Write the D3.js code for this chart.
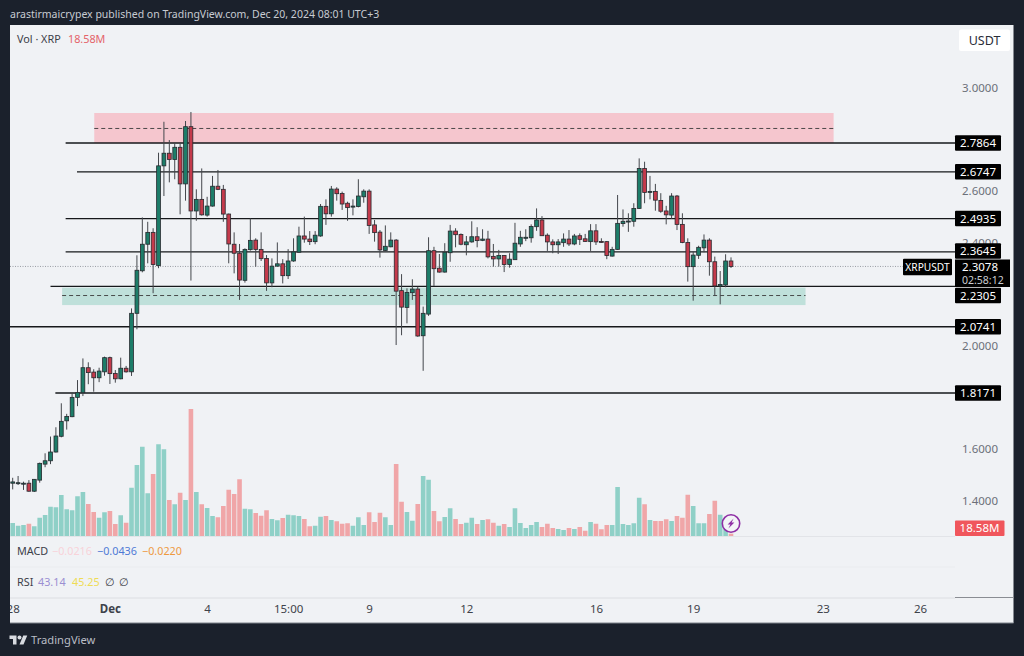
<!DOCTYPE html>
<html>
<head>
<meta charset="utf-8">
<script src="https://cdnjs.cloudflare.com/ajax/libs/d3/7.8.5/d3.min.js"></script>
<style>
html,body{margin:0;padding:0;background:#1b212c;overflow:hidden}
svg{display:block}
text{font-family:"Noto Sans",sans-serif}
</style>
</head>
<body>
<svg id="c" width="1024" height="656"></svg>
<script>
const opens=[1.467,1.467,1.464,1.467,1.436,1.479,1.541,1.554,1.588,1.649,1.709,1.725,1.800,1.818,1.915,1.898,1.876,1.899,1.954,1.893,1.872,1.913,1.899,2.126,2.291,2.394,2.440,2.311,2.698,2.747,2.723,2.770,2.628,2.850,2.523,2.568,2.507,2.542,2.619,2.607,2.511,2.394,2.359,2.254,2.373,2.410,2.374,2.339,2.244,2.309,2.318,2.272,2.329,2.363,2.426,2.414,2.404,2.426,2.541,2.512,2.608,2.591,2.553,2.538,2.540,2.578,2.600,2.469,2.441,2.370,2.384,2.410,2.214,2.149,2.206,2.220,2.039,2.123,2.369,2.301,2.286,2.361,2.445,2.432,2.392,2.403,2.423,2.409,2.414,2.347,2.337,2.350,2.315,2.334,2.395,2.417,2.419,2.462,2.488,2.429,2.403,2.392,2.400,2.414,2.395,2.427,2.415,2.404,2.446,2.405,2.404,2.348,2.374,2.474,2.481,2.483,2.533,2.688,2.597,2.599,2.564,2.523,2.507,2.581,2.471,2.401,2.307,2.351,2.380,2.410,2.326,2.232,2.236,2.329];
const closes=[1.472,1.469,1.467,1.436,1.482,1.544,1.554,1.588,1.650,1.707,1.726,1.800,1.818,1.915,1.896,1.876,1.902,1.954,1.892,1.872,1.913,1.899,2.126,2.293,2.394,2.440,2.315,2.698,2.747,2.723,2.770,2.628,2.850,2.523,2.568,2.508,2.542,2.619,2.607,2.511,2.395,2.359,2.255,2.374,2.409,2.374,2.338,2.244,2.309,2.318,2.272,2.329,2.364,2.426,2.414,2.404,2.429,2.541,2.512,2.608,2.590,2.550,2.536,2.542,2.581,2.600,2.467,2.439,2.372,2.386,2.410,2.212,2.150,2.207,2.220,2.038,2.126,2.369,2.299,2.286,2.363,2.445,2.431,2.394,2.403,2.423,2.408,2.414,2.345,2.337,2.350,2.315,2.336,2.398,2.421,2.421,2.463,2.488,2.427,2.403,2.392,2.403,2.414,2.395,2.426,2.413,2.405,2.446,2.403,2.403,2.350,2.374,2.475,2.483,2.484,2.533,2.688,2.595,2.599,2.565,2.522,2.508,2.581,2.471,2.401,2.307,2.352,2.382,2.410,2.326,2.232,2.238,2.329,2.3078];
const highs=[1.488,1.495,1.473,1.479,1.483,1.547,1.583,1.648,1.684,1.777,1.736,1.818,1.867,1.951,1.936,1.909,1.915,1.958,1.958,1.906,1.954,1.922,2.145,2.351,2.498,2.481,2.456,2.749,2.869,2.798,2.785,2.785,2.872,2.907,2.607,2.688,2.578,2.659,2.682,2.624,2.513,2.440,2.395,2.378,2.494,2.417,2.440,2.352,2.339,2.401,2.336,2.375,2.417,2.462,2.501,2.445,2.445,2.550,2.568,2.620,2.615,2.598,2.559,2.568,2.646,2.607,2.607,2.488,2.449,2.467,2.440,2.414,2.278,2.223,2.258,2.229,2.152,2.421,2.384,2.356,2.398,2.469,2.456,2.436,2.426,2.483,2.460,2.452,2.446,2.395,2.372,2.352,2.359,2.477,2.446,2.452,2.471,2.533,2.503,2.436,2.413,2.414,2.436,2.449,2.434,2.436,2.434,2.472,2.472,2.417,2.406,2.384,2.585,2.529,2.514,2.553,2.727,2.714,2.659,2.628,2.592,2.543,2.592,2.585,2.514,2.417,2.365,2.388,2.432,2.417,2.346,2.290,2.355,2.343];
const lows=[1.443,1.460,1.441,1.434,1.433,1.469,1.529,1.541,1.586,1.645,1.675,1.723,1.766,1.805,1.851,1.822,1.859,1.884,1.852,1.857,1.870,1.896,1.883,2.064,2.285,2.320,2.204,2.301,2.581,2.634,2.646,2.510,2.563,2.253,2.485,2.505,2.501,2.540,2.604,2.481,2.320,2.281,2.178,2.245,2.369,2.307,2.329,2.213,2.227,2.307,2.242,2.259,2.326,2.361,2.400,2.391,2.394,2.423,2.469,2.501,2.563,2.527,2.485,2.506,2.537,2.555,2.434,2.404,2.342,2.368,2.382,2.003,2.041,2.087,2.178,2.035,1.903,2.116,2.232,2.284,2.284,2.326,2.382,2.390,2.351,2.400,2.382,2.406,2.339,2.307,2.307,2.286,2.303,2.333,2.384,2.406,2.400,2.446,2.426,2.368,2.359,2.356,2.384,2.387,2.390,2.391,2.403,2.368,2.391,2.400,2.336,2.346,2.372,2.462,2.442,2.462,2.531,2.553,2.568,2.524,2.516,2.471,2.493,2.449,2.398,2.249,2.175,2.337,2.363,2.272,2.193,2.161,2.227,2.302];
const volumes=[104,82,88,98,78,146,168,234,230,328,214,206,318,352,256,192,146,190,200,96,166,106,386,568,714,342,496,734,694,288,254,346,288,1016,352,254,224,160,150,240,370,336,454,218,214,184,162,206,136,126,144,170,166,160,136,78,82,154,160,128,118,98,102,82,150,88,190,112,186,150,88,576,274,192,122,256,480,450,200,118,152,222,136,96,106,146,96,128,134,106,82,96,72,222,104,64,88,112,72,98,64,56,48,64,56,72,42,112,98,54,88,88,392,96,88,102,306,254,128,120,120,134,120,160,146,330,240,102,102,176,282,170,62,18.58];
const priceTicks=[3.0,2.6,2.4,2.0,1.6,1.4];
const timeTickIndex=[0,18,36,51,66,84,108,126,150,168];
const timeTickLabels=["28","Dec","4","15:00","9","12","16","19","23","26"];
const levelPrices=[2.7864,2.6747,2.4935,2.3645,2.2305,2.0741,1.8171];
const levelStartIndex=[9.8,11.9,9.8,9.8,7,-0.5,7.9];
const supplyZone=[2.903,2.7864,2.843], demandZone=[2.2255,2.158,2.195];
const lastPrice=2.3078, lastVolumeLabel="18.58M";

const svg=d3.select("#c");
const x=d3.scaleLinear().domain([0,133]).range([12.7,731]);
const y=d3.scaleLinear().domain([3,2]).range([88,345.8]);
const yV=d3.scaleLinear().domain([0,1016]).range([536,409]);
const ink="#26292e", up="#1d7d69", dn="#c43a4b";

// panel
svg.append("rect").attr("x",10).attr("y",25).attr("width",1003.5).attr("height",598).attr("fill","#f0f2f5");
svg.append("rect").attr("x",10).attr("y",622.5).attr("width",1003.5).attr("height",1).attr("fill","#7d828a");
const seps=[[10,955,598,"#dcdee2"],[955,1014,597.5,"#8a8d93"],[10,955,567,"#eaecef"],[10,955,536.5,"#e2e4e8"]];
seps.forEach(s=>svg.append("line").attr("x1",s[0]).attr("x2",s[1]).attr("y1",s[2]).attr("y2",s[2]).attr("stroke",s[3]));

const defs=svg.append("defs");
defs.append("clipPath").attr("id","p").append("rect").attr("x",10).attr("y",25).attr("width",1003.5).attr("height",598);
const root=svg.append("g").attr("clip-path","url(#p)");

// volume
root.append("g").selectAll("rect").data(volumes).join("rect")
 .attr("x",(d,i)=>x(i)-2.3).attr("width",4.6)
 .attr("y",d=>yV(d)).attr("height",d=>536-yV(d))
 .attr("fill",(d,i)=>closes[i]>=opens[i]?"#8fd0c7":"#f0a6a8");

// zones
function zone(z,i0,i1,fill){
 root.append("rect").attr("x",x(i0)).attr("width",x(i1)-x(i0)).attr("y",y(z[0])).attr("height",y(z[1])-y(z[0])).attr("fill",fill);
 root.append("line").attr("x1",x(i0)).attr("x2",x(i1)).attr("y1",y(z[2])).attr("y2",y(z[2])).attr("stroke","#3a3a3a").attr("stroke-width",0.9).attr("stroke-dasharray","4 3");
}
zone(supplyZone,15.1,152,"#f5c6ce");
zone(demandZone,9.15,146.8,"#bfe0da");

// last-price dotted
root.append("line").attr("x1",10).attr("x2",903).attr("y1",y(lastPrice)).attr("y2",y(lastPrice)).attr("stroke","#9a9da3").attr("stroke-dasharray","1 1.5");

// levels
root.append("g").selectAll("line").data(levelPrices).join("line")
 .attr("x1",(d,i)=>x(levelStartIndex[i])).attr("x2",955).attr("y1",d=>y(d)).attr("y2",d=>y(d))
 .attr("stroke","#16181b").attr("stroke-width",1.4);

// candles
const idx=d3.range(opens.length);
root.append("g").selectAll("line").data(idx).join("line")
 .attr("x1",i=>x(i)).attr("x2",i=>x(i)).attr("y1",i=>y(highs[i])).attr("y2",i=>y(lows[i]))
 .attr("stroke","#44474c").attr("stroke-width",1);
root.append("g").selectAll("rect").data(idx).join("rect")
 .attr("x",i=>x(i)-1.9).attr("width",3.8)
 .attr("y",i=>Math.min(y(opens[i]),y(closes[i])))
 .attr("height",i=>Math.max(1,Math.abs(y(opens[i])-y(closes[i]))))
 .attr("fill",i=>closes[i]>=opens[i]?up:dn)
 .attr("stroke",ink).attr("stroke-width",0.8);

// price axis
const axG=svg.append("g").attr("transform","translate(962,0)")
 .call(d3.axisRight(y).tickValues(priceTicks).tickFormat(d3.format(".4f")).tickSize(0).tickPadding(0));
axG.select(".domain").remove();
axG.selectAll("text").attr("fill","#6c7079").attr("font-size",11.5).style("font-family",'"Noto Sans",sans-serif');

// time axis
defs.append("clipPath").attr("id","p2").append("rect").attr("x",10).attr("y",-10).attr("width",1003).attr("height",40);
const tG=svg.append("g").attr("transform","translate(0,605)").attr("clip-path","url(#p2)");
tG.call(d3.axisBottom(x).tickValues(timeTickIndex).tickFormat((d,i)=>timeTickLabels[i]).tickSize(0).tickPadding(0));
tG.select(".domain").remove();
tG.selectAll("text").attr("fill","#3e424a").attr("font-size",11.5).style("font-family",'"Noto Sans",sans-serif')
 .attr("font-weight",(d,i)=>timeTickLabels[i]==="Dec"?700:400);

// level tags
function tag(label,yc,x0,w,h,fs,col){
 svg.append("rect").attr("x",x0).attr("y",yc-h/2).attr("width",w).attr("height",h).attr("fill","#000").attr("rx",1);
 svg.append("text").attr("x",x0+w/2).attr("y",yc).attr("dy","0.36em").attr("text-anchor","middle")
  .attr("fill",col||"#fff").attr("font-size",fs||11.5).text(label);
}
const levelTagY=levelPrices.map(p=>y(p));
levelTagY[4]=295.5; levelTagY[3]=251;
levelPrices.forEach((p,i)=>tag(p.toFixed(4),levelTagY[i],955,46,15.5));
svg.append("rect").attr("x",955).attr("y",259.5).attr("width",55).attr("height",27.5).attr("fill","#000");
svg.append("text").attr("x",962).attr("y",267).attr("dy","0.36em").attr("fill","#fff").attr("font-size",11.5).text(lastPrice.toFixed(4));
svg.append("text").attr("x",962).attr("y",280.5).attr("dy","0.36em").attr("fill","#c9ccd1").attr("font-size",10.5).text("02:58:12");
tag("XRPUSDT",267,903,49,16.5,10.2);

// volume tag
svg.append("rect").attr("x",955).attr("y",520.5).attr("width",49.5).attr("height",15.5).attr("fill","#f0565c").attr("rx",1);
svg.append("text").attr("x",979.5).attr("y",528.3).attr("dy","0.36em").attr("text-anchor","middle").attr("fill","#fff").attr("font-size",11.5).text(lastVolumeLabel);

// USDT box
svg.append("rect").attr("x",959).attr("y",29.5).attr("width",51).attr("height",21.5).attr("fill","#fff").attr("rx",2);
svg.append("text").attr("x",984.5).attr("y",40).attr("dy","0.36em").attr("text-anchor","middle").attr("fill","#2a2e39").attr("font-size",12.5).text("USDT");

// icon
const ic=svg.append("g").attr("transform","translate(731,523.5)");
ic.append("circle").attr("r",8.7).attr("fill","#f3f4f7").attr("stroke","#8e2fa5").attr("stroke-width",1.6);
ic.append("path").attr("d","M2.6,-5 L-3.4,1 L-0.6,1 L-2.6,5 L3.4,-1 L0.6,-1 Z").attr("fill","#8e2fa5");

// header / legends
function txt(s,xx,yy,col,fs,weight){
 return svg.append("text").attr("x",xx).attr("y",yy).attr("dy","0.36em").attr("fill",col).attr("font-size",fs).attr("font-weight",weight||400).text(s);
}
txt("arastirmaicrypex published on TradingView.com, Dec 20, 2024 08:01 UTC+3",10,14,"#c7cbd2",10.5);
txt("Vol · XRP",17,39.5,"#3c4048",10.8);
txt("18.58M",68,39.5,"#e4636a",10.8);
txt("MACD",17,551,"#3c4048",10.8);
txt("−0.0216",52,551,"#f8d3d9",10.8);
txt("−0.0436",97,551,"#4f7ad6",10.8);
txt("−0.0220",142,551,"#ee9a3f",10.8);
txt("RSI",17,582,"#3c4048",10.8);
txt("43.14",38,582,"#9a8fd2",10.8);
txt("45.25",72,582,"#efdc55",10.8);
txt("∅",105,582,"#3c4048",10.8);
txt("∅",119,582,"#3c4048",10.8);

// logo
const lg=svg.append("g").attr("transform","translate(9.5,633.5) scale(0.5)").attr("fill","#d8dbe0");
lg.append("path").attr("d","M14 22H7V11H0V4h14v18zM28 22h-8l7.5-18h8L28 22z");
lg.append("circle").attr("cx",20).attr("cy",8).attr("r",4);
txt("TradingView",31,640,"#b9bdc5",11.2,400);
</script>
</body>
</html>
